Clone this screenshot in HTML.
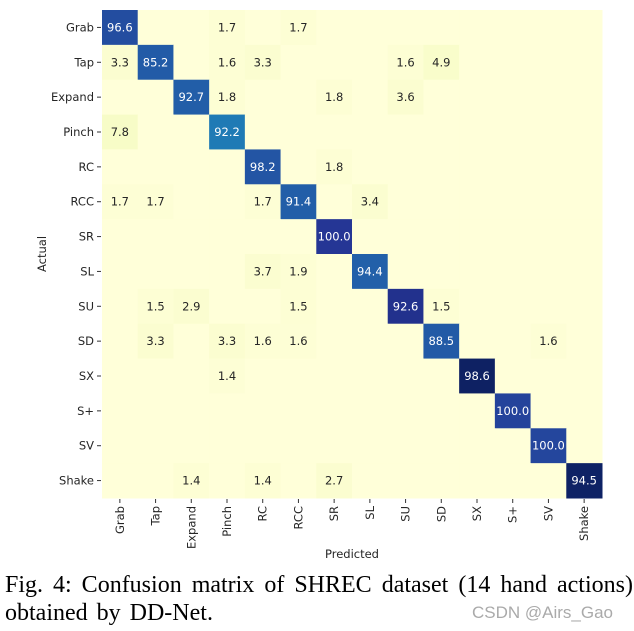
<!DOCTYPE html>
<html><head><meta charset="utf-8">
<style>
body{margin:0;background:#fff;width:634px;height:631px;overflow:hidden;position:relative}
svg{position:absolute;left:0;top:0}
.cap{position:absolute;left:5px;font-family:"Liberation Serif",serif;font-size:24px;color:#000;white-space:nowrap}
</style></head><body>
<svg id="chart" width="634" height="631" font-family="DejaVu Sans, sans-serif"></svg>
<div class="cap" style="top:572px;word-spacing:4px">Fig. 4: Confusion matrix of SHREC dataset (14 hand actions)</div>
<div class="cap" style="top:600px;word-spacing:3px">obtained by DD-Net.</div>
<div style="position:absolute;left:472px;top:603px;font-family:'Liberation Sans',sans-serif;font-size:17px;color:#aaa;background:#fff">CSDN @Airs_Gao</div>
<script>
const labels=["Grab","Tap","Expand","Pinch","RC","RCC","SR","SL","SU","SD","SX","S+","SV","Shake"];
const rowGrab=[96.6,0,0,1.7,0,1.7,0,0,0,0,0,0,0,0];
const rowTap=[3.3,85.2,0,1.6,3.3,0,0,0,1.6,4.9,0,0,0,0];
const rowExpand=[0,0,92.7,1.8,0,0,1.8,0,3.6,0,0,0,0,0];
const rowPinch=[7.8,0,0,92.2,0,0,0,0,0,0,0,0,0,0];
const rowRC=[0,0,0,0,98.2,0,1.8,0,0,0,0,0,0,0];
const rowRCC=[1.7,1.7,0,0,1.7,91.4,0,3.4,0,0,0,0,0,0];
const rowSR=[0,0,0,0,0,0,100.0,0,0,0,0,0,0,0];
const rowSL=[0,0,0,0,3.7,1.9,0,94.4,0,0,0,0,0,0];
const rowSU=[0,1.5,2.9,0,0,1.5,0,0,92.6,1.5,0,0,0,0];
const rowSD=[0,3.3,0,3.3,1.6,1.6,0,0,0,88.5,0,0,1.6,0];
const rowSX=[0,0,0,1.4,0,0,0,0,0,0,98.6,0,0,0];
const rowSplus=[0,0,0,0,0,0,0,0,0,0,0,100.0,0,0];
const rowSV=[0,0,0,0,0,0,0,0,0,0,0,0,100.0,0];
const rowShake=[0,0,1.4,0,1.4,0,2.7,0,0,0,0,0,0,94.5];
const rowTotals=[83,89,81,74,79,82,87,79,96,86,99,83,82,103];
const vmax=100;
const matrix=[rowGrab,rowTap,rowExpand,rowPinch,rowRC,rowRCC,rowSR,rowSL,rowSU,rowSD,rowSX,rowSplus,rowSV,rowShake];

const NS="http://www.w3.org/2000/svg";
const svg=document.getElementById('chart');
const L=102,T=10,R=602,B=498;
const cw=(R-L)/labels.length, ch=(B-T)/labels.length;
const xPos=i=>L+i*cw, yPos=i=>T+i*ch;
const stops=["#ffffd9","#edf8b1","#c7e9b4","#7fcdbb","#41b6c4","#1d91c0","#225ea8","#253494","#081d58"];
function hex(h){return [1,3,5].map(i=>parseInt(h.substr(i,2),16));}
function cmap(t){t=Math.max(0,Math.min(1,t));const p=t*8,i=Math.min(7,Math.floor(p)),f=p-i;const a=hex(stops[i]),b=hex(stops[i+1]);return `rgb(${a.map((v,k)=>Math.round(v+(b[k]-v)*f)).join(',')})`;}
function mk(tag,attrs){const e=document.createElementNS(NS,tag);for(const k in attrs)e.setAttribute(k,attrs[k]);svg.appendChild(e);return e;}
matrix.forEach((row,r)=>{row.forEach((v,c)=>{
  const t=v*rowTotals[r]/100/vmax;
  const rect=mk('rect',{x:xPos(c),y:yPos(r),width:cw+0.5,height:ch+0.5,fill:cmap(t)});
  
  
  if(v>0){
    const tx=mk('text',{x:xPos(c)+cw/2,y:yPos(r)+ch/2+4,'text-anchor':'middle','font-size':'11.5',fill:t>0.5?'#fff':'#262626'});
    tx.textContent=v.toFixed(1);
    
    
  }
});});
labels.forEach((lab,i)=>{
  const y=yPos(i)+ch/2;
  mk('line',{x1:97,x2:101,y1:y,y2:y,stroke:'#333'});
  const t=mk('text',{x:94,y:y+4,'text-anchor':'end','font-size':'11.5',fill:'#262626'});
  t.textContent=lab;
  
  
  const x=xPos(i)+cw/2;
  mk('line',{x1:x,x2:x,y1:499,y2:503,stroke:'#333'});
  const u=mk('text',{x:0,y:0,'text-anchor':'end','font-size':'11.5',fill:'#262626',transform:`translate(${x+4},506) rotate(-90)`});
  u.textContent=lab;
  
  
});
const yl=mk('text',{'text-anchor':'middle','font-size':'11.5',fill:'#262626',transform:`translate(46,${(T+B)/2}) rotate(-90)`});
yl.textContent='Actual';


const xl=mk('text',{x:(L+R)/2,y:558,'text-anchor':'middle','font-size':'11.5',fill:'#262626'});
xl.textContent='Predicted';


</script>
</body></html>
